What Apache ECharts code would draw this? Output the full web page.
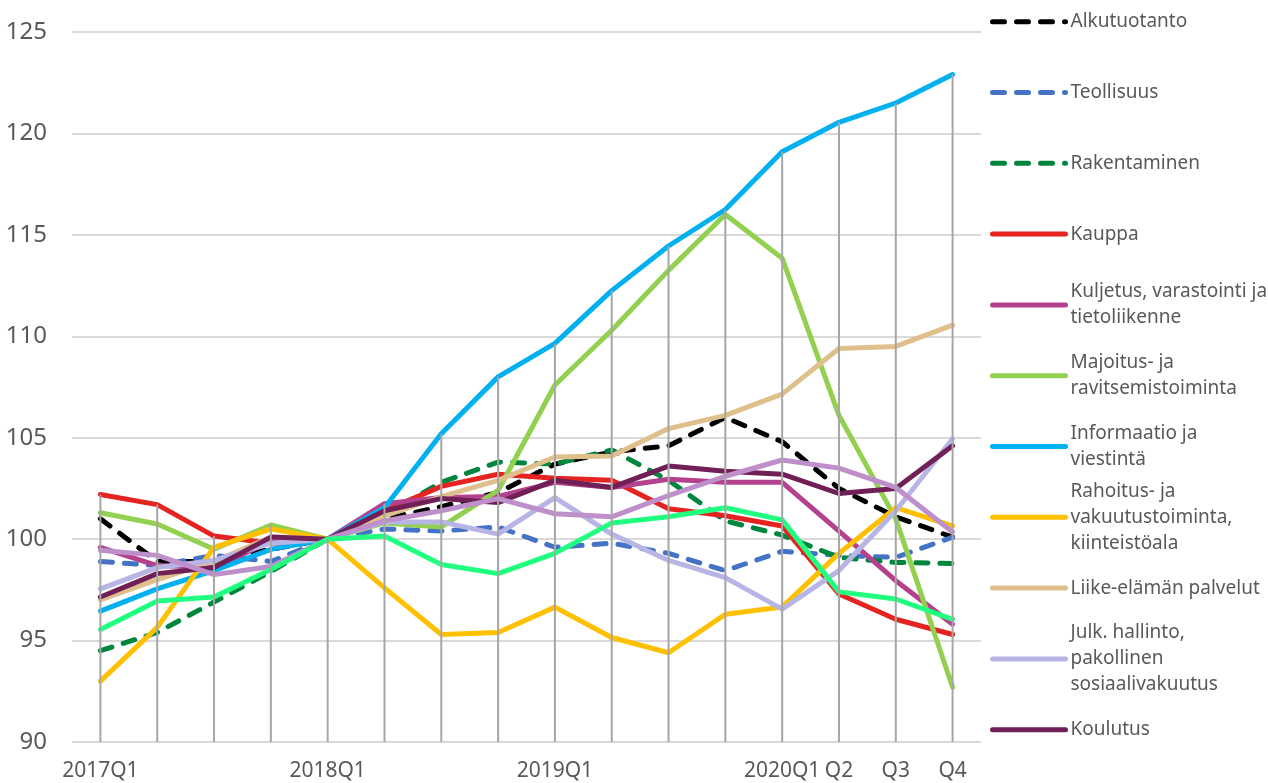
<!DOCTYPE html>
<html>
<head>
<meta charset="utf-8">
<script src="https://cdn.jsdelivr.net/npm/echarts@6/dist/echarts.min.js"></script>
<style>html,body{margin:0;padding:0;background:#fff}#c{width:1268px;height:783px}</style>
</head>
<body>
<div id="c"></div>
<script>
const categories = ["2017Q1","2017Q2","2017Q3","2017Q4","2018Q1","2018Q2","2018Q3","2018Q4","2019Q1","2019Q2","2019Q3","2019Q4","2020Q1","2020Q2","2020Q3","2020Q4"];
const tickLabels = ["2017Q1","","","","2018Q1","","","","2019Q1","","","","2020Q1","Q2","Q3","Q4"];
const yTicks = [90,95,100,105,110,115,120,125];

const alkutuotanto = [101.0,98.9,98.9,99.5,100,101.0,101.6,102.3,103.7,104.3,104.6,106.0,104.8,102.5,101.1,100.1];
const teollisuus   = [98.9,98.7,99.2,98.9,100,100.5,100.4,100.6,99.6,99.8,99.3,98.45,99.4,99.2,99.1,100.1];
const rakentaminen = [94.5,95.4,96.9,98.4,100,101.2,102.8,103.8,103.7,104.4,102.9,100.9,100.2,99.1,98.85,98.8];
const kauppa       = [102.2,101.7,100.15,99.8,100,101.4,102.6,103.2,103.0,102.9,101.5,101.15,100.65,97.3,96.05,95.3];
const kuljetus     = [99.6,98.7,98.6,99.9,100,101.75,102.05,102.1,102.8,102.55,102.95,102.8,102.8,100.4,97.95,95.8];
const majoitus     = [101.3,100.75,99.5,100.7,100,100.8,100.6,102.4,107.6,110.3,113.25,116.0,113.85,106.1,101.0,92.7];
const informaatio  = [96.45,97.55,98.45,99.5,100,101.55,105.2,108.0,109.65,112.25,114.45,116.25,119.1,120.55,121.5,122.9];
const rahoitus     = [93.0,95.65,99.6,100.5,100,97.6,95.3,95.4,96.65,95.15,94.4,96.3,96.65,99.3,101.55,100.65];
const liike        = [97.0,98.0,98.9,100.1,100,101.15,102.1,102.9,104.05,104.1,105.45,106.1,107.15,109.4,109.5,110.55];
const julk         = [97.55,98.6,98.95,99.8,100,100.85,100.85,100.25,102.05,100.25,98.95,98.1,96.55,98.45,101.4,104.95];
const koulutus     = [97.15,98.3,98.6,100.1,100,101.4,102.0,101.8,102.9,102.55,103.6,103.35,103.2,102.25,102.5,104.6];
const terveys      = [99.45,99.2,98.25,98.65,100,100.9,101.4,102.0,101.25,101.1,102.15,103.1,103.9,103.5,102.55,100.35];
const muut         = [95.55,96.95,97.15,98.5,100,100.15,98.75,98.3,99.3,100.8,101.1,101.55,100.95,97.4,97.05,96.05];

const seriesNames = ["Alkutuotanto","Teollisuus","Rakentaminen","Kauppa","Kuljetus, varastointi ja tietoliikenne","Majoitus- ja ravitsemistoiminta","Informaatio ja viestintä","Rahoitus- ja vakuutustoiminta, kiinteistöala","Liike-elämän palvelut","Julk. hallinto, pakollinen sosiaalivakuutus","Koulutus","Terveys- ja sosiaalipalvelut","Muut palvelut"];
const legendLabels = ["Alkutuotanto","Teollisuus","Rakentaminen","Kauppa","Kuljetus, varastointi ja\ntietoliikenne","Majoitus- ja\nravitsemistoiminta","Informaatio ja\nviestintä","Rahoitus- ja\nvakuutustoiminta,\nkiinteistöala","Liike-elämän palvelut","Julk. hallinto,\npakollinen\nsosiaalivakuutus","Koulutus"];
const seriesData = [alkutuotanto,teollisuus,rakentaminen,kauppa,kuljetus,majoitus,informaatio,rahoitus,liike,julk,koulutus,terveys,muut];
const colors = ["#000000","#4472C4","#00853E","#E52421","#B4418E","#92D050","#00B0F0","#FFC000","#DFC08C","#B7B5E6","#702057","#BF8FCB","#20FF80"];
const dashed = [true,true,true,false,false,false,false,false,false,false,false,false,false];

const dropMax = categories.map((_, i) => Math.max(...seriesData.map(s => s[i])));

const FONT = "Noto Sans";
const lineSeries = seriesData.map((d, k) => ({
  name: seriesNames[k],
  type: 'line',
  data: d,
  symbol: 'none',
  smooth: false,
  color: colors[k],
  lineStyle: { color: colors[k], width: 5, type: dashed[k] ? [12, 12] : 'solid', cap: 'round', join: 'round' },
  z: 2
}));

const LH = 26;
const legends = legendLabels.map((lab, i) => {
  const n = lab.split('\n').length;
  const markerY = 21.7 + i * 70.8;
  const H = (2 * n - 1) * LH;
  return {
    data: [seriesNames[i]],
    left: 990,
    top: markerY - H / 2,
    padding: 0,
    itemWidth: 73,
    itemHeight: 14,
    formatter: () => lab,
    itemStyle: { color: 'rgba(0,0,0,0)', borderWidth: 0, opacity: 0 },
    lineStyle: { width: 5, cap: 'round' },
    textStyle: { fontFamily: FONT, fontSize: 19, color: '#595959', lineHeight: LH, padding: [(n - 1) * LH, 0, 0, 0] },
    selectedMode: false
  };
});

const chart = echarts.init(document.getElementById('c'), null, { renderer: 'canvas' });
chart.setOption({
  animation: false,
  backgroundColor: '#ffffff',
  grid: { left: 72, right: 287, top: 32, bottom: 41 },
  legend: legends,
  xAxis: {
    type: 'category',
    data: categories,
    boundaryGap: true,
    axisLine: { show: false },
    axisTick: { show: false },
    axisLabel: { interval: 0, margin: 19, fontFamily: FONT, fontSize: 21, color: '#595959', formatter: (v, i) => tickLabels[i] }
  },
  yAxis: {
    type: 'value',
    min: yTicks[0],
    max: yTicks[yTicks.length - 1],
    interval: 5,
    axisLine: { show: false },
    axisTick: { show: false },
    axisLabel: { margin: 25, fontFamily: FONT, fontSize: 24, color: '#595959' },
    splitLine: { lineStyle: { color: '#D9D9D9', width: 2 } }
  },
  series: lineSeries.concat([{
    name: 'dropLines',
    type: 'bar',
    data: dropMax,
    barWidth: 2,
    itemStyle: { color: '#A6A6A6' },
    z: 3,
    silent: true
  }])
});
</script>
</body>
</html>
